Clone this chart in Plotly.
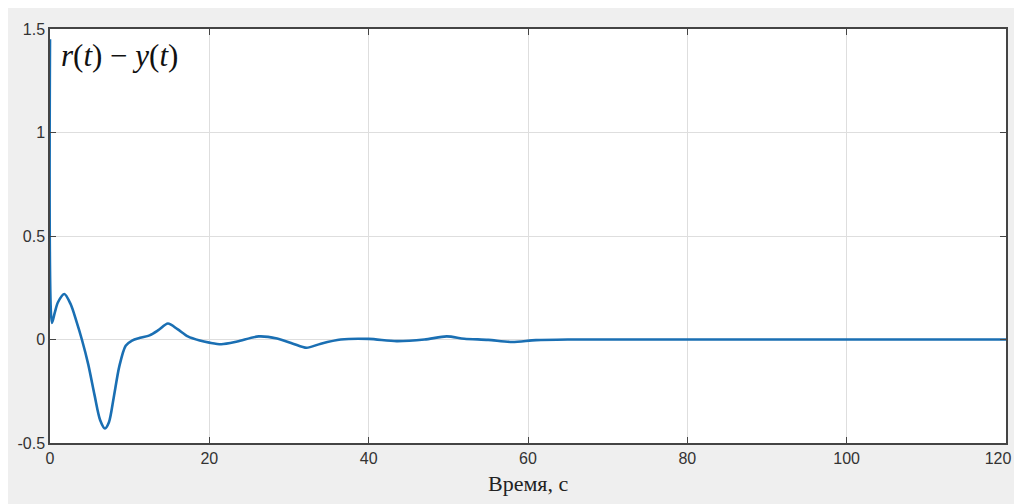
import plotly.graph_objects as go

# time (s) and error r(t) - y(t)
t = [0, 0.25, 0.6, 1.0, 1.8, 2.6, 3.3, 4.0, 4.8, 5.6, 6.3, 6.9, 7.4, 8.0, 8.7, 9.5, 10.3,
     11.3, 12.5, 13.6, 14.8, 16.0, 17.3, 18.8, 20.0, 21.5, 23.5, 26.2, 28.5, 30.5, 32.2,
     34.0, 36.5, 40.0, 43.5, 47.0, 49.8, 52.0, 55.0, 58.0, 61.0, 65.0, 80.0, 100.0, 120.0]
e = [1.45, 0.08, 0.13, 0.18, 0.22, 0.17, 0.09, 0.0, -0.12, -0.27, -0.39, -0.43, -0.40,
     -0.28, -0.13, -0.03, -0.005, 0.008, 0.02, 0.045, 0.077, 0.05, 0.015, -0.005, -0.015,
     -0.023, -0.01, 0.015, 0.005, -0.02, -0.04, -0.02, 0.0, 0.003, -0.008, 0.0, 0.015,
     0.004, -0.002, -0.012, -0.003, 0.0, 0.0, 0.0, 0.0]

x_ticks = [0, 20, 40, 60, 80, 100, 120]
x_tick_text = ["0", "20", "40", "60", "80", "100", "120\u2003"]
y_ticks = [-0.5, 0, 0.5, 1, 1.5]
y_tick_text = ["-0.5", "0", "0.5", "1", "1.5"]

# the page is offset by the browser's 8px body margin
OFF = 8
W, H = 1022 - OFF, 504 - OFF
ML, MR, MT, MB = 50 - OFF, 16, 29 - OFF, 61
PW, PH = W - ML - MR, H - MT - MB

fig = go.Figure()
fig.add_trace(go.Scatter(x=t, y=e, mode="lines",
                         line=dict(color="#1a6fb3", width=2.6, shape="spline", smoothing=0.8),
                         showlegend=False))

axis_common = dict(showline=True, linecolor="#444444", linewidth=1.5, mirror="ticks",
                   ticks="inside", ticklen=6, tickcolor="#444444", tickwidth=1.3,
                   showgrid=True, gridcolor="#dedede", gridwidth=1, zeroline=False,
                   automargin=False,
                   tickfont=dict(family="Liberation Sans, Arial, sans-serif", size=16, color="#333333"))

fig.update_xaxes(range=[0, 120], tickvals=x_ticks, ticktext=x_tick_text,
                 ticklabeloverflow="allow", **axis_common)
fig.update_yaxes(range=[-0.5, 1.5], tickvals=y_ticks, ticktext=y_tick_text, **axis_common)

# x-axis title
fig.add_annotation(xref="paper", yref="paper", x=0.5, y=-(483 - 443) / PH,
                   xanchor="center", yanchor="middle", text="Время, с", showarrow=False,
                   font=dict(family="Liberation Serif, Times New Roman, serif", size=22, color="#222222"))

# in-plot label
fig.add_annotation(xref="paper", yref="paper", x=(59 - 50) / PW, y=1 - (36 - 29) / PH,
                   xanchor="left", yanchor="top",
                   text="<i>r</i>(<i>t</i>) − <i>y</i>(<i>t</i>)", showarrow=False,
                   font=dict(family="Liberation Serif, Times New Roman, serif", size=31, color="#111111"))

fig.update_layout(width=W, height=H, paper_bgcolor="#efefef", plot_bgcolor="white",
                  margin=dict(l=ML, r=MR, t=MT, b=MB))

fig.write_html("out.html")
